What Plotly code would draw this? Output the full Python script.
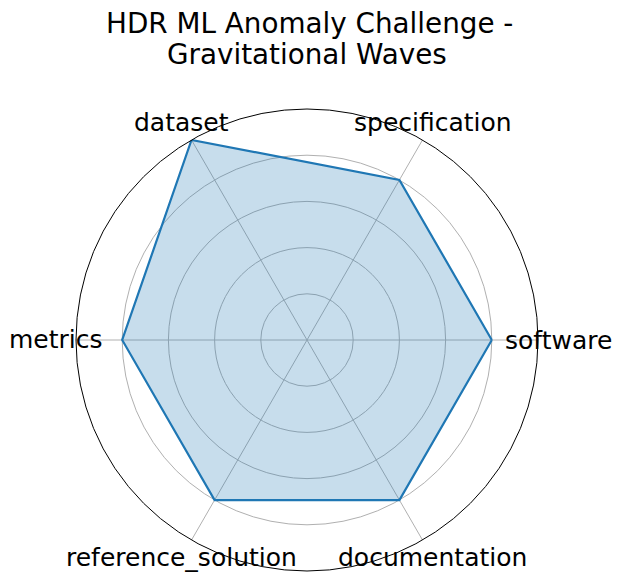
import numpy as np
import plotly.graph_objects as go

# radar data
categories = ["software", "specification", "dataset", "metrics",
              "reference_solution", "documentation"]
scores = [4, 4, 5, 4, 4, 4]
title_lines = ["HDR ML Anomaly Challenge -", "Gravitational Waves"]

# the page body has an 8px margin, so the figure is drawn 8px smaller
W, H = 613, 573
cx, cy, R = 299, 332, 231      # polar centre / radius in px
label_pad = 251                 # where matplotlib puts the category labels

theta = categories + categories[:1]
r = scores + scores[:1]

fig = go.Figure()

fig.add_trace(go.Scatterpolar(
    r=r,
    theta=theta,
    mode="lines",
    fill="toself",
    fillcolor="rgba(31,119,180,0.25)",
    line=dict(color="#1f77b4", width=2.2),
    hoverinfo="skip",
))

# category labels sit over the outer ring like in matplotlib
angles = np.deg2rad(np.arange(len(categories)) * 360 / len(categories))
for name, a in zip(categories, angles):
    fig.add_annotation(
        text=name,
        x=(cx + label_pad * np.cos(a)) / W,
        y=1 - (cy - label_pad * np.sin(a)) / H,
        xref="paper", yref="paper",
        xanchor="center", yanchor="middle",
        showarrow=False,
        font=dict(family="DejaVu Sans", size=25, color="black"),
    )

# title, two lines
for txt, xc, yc in zip(title_lines, [301, 299], [16, 46]):
    fig.add_annotation(
        text=txt,
        x=xc / W, y=1 - yc / H,
        xref="paper", yref="paper",
        xanchor="center", yanchor="middle",
        showarrow=False,
        font=dict(family="DejaVu Sans", size=27.8, color="black"),
    )

fig.update_layout(
    width=W,
    height=H,
    showlegend=False,
    paper_bgcolor="white",
    margin=dict(l=0, r=0, t=0, b=0),
    font=dict(family="DejaVu Sans", color="black"),
    polar=dict(
        domain=dict(x=[(cx - R) / W, (cx + R) / W],
                    y=[1 - (cy + R) / H, 1 - (cy - R) / H]),
        bgcolor="white",
        angularaxis=dict(
            categoryorder="array",
            categoryarray=categories,
            rotation=0,
            direction="counterclockwise",
            showline=True,
            linecolor="black",
            linewidth=1,
            showgrid=True,
            gridcolor="#b0b0b0",
            gridwidth=0.8,
            showticklabels=False,
            ticks="",
        ),
        radialaxis=dict(
            range=[0, 5],
            tickvals=[1, 2, 3, 4],
            showline=False,
            showticklabels=False,
            ticks="",
            gridcolor="#b0b0b0",
            gridwidth=0.8,
        ),
    ),
)

fig.write_html("out.html")
